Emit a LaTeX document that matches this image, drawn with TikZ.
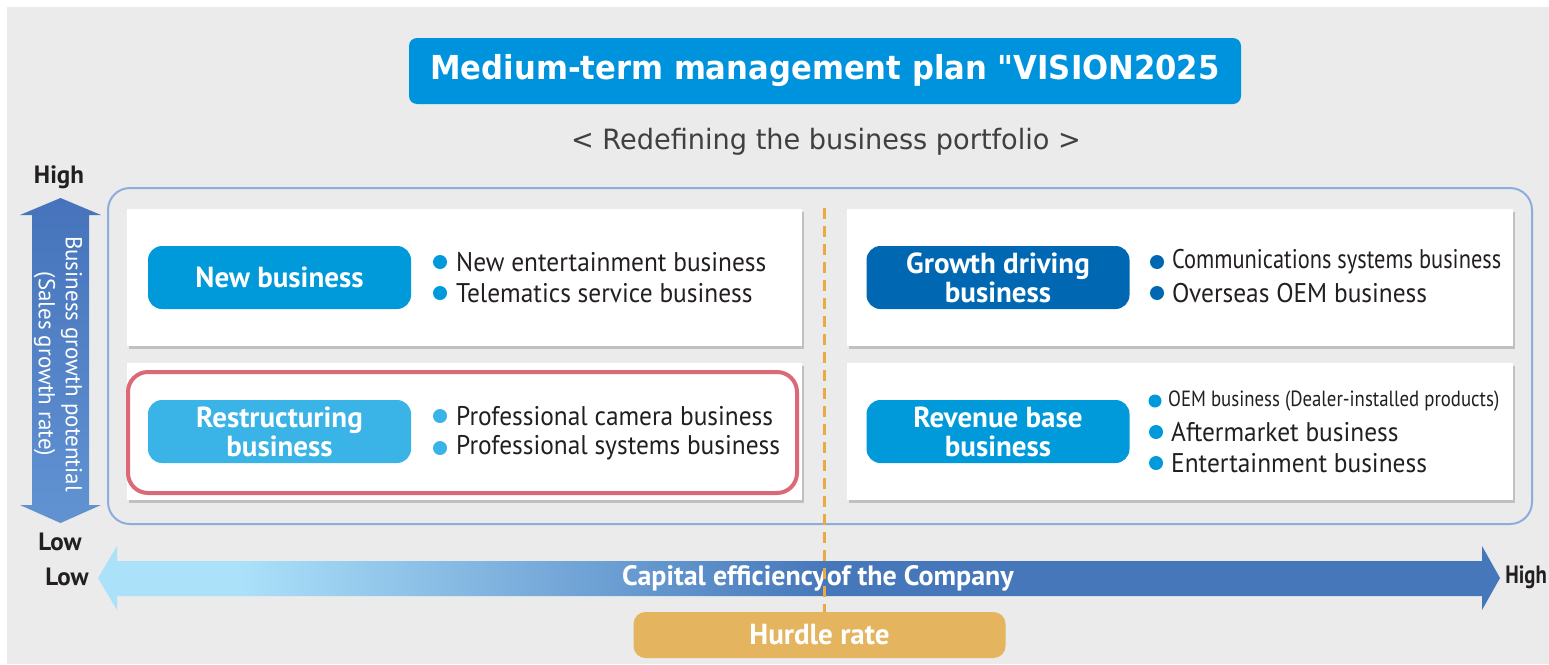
\documentclass[tikz,border=0pt]{standalone}
\usepackage{fontspec}
\setmainfont{PT Sans}
\newfontfamily\dvs[FakeStretch=0.97]{DejaVu Sans}
\newfontfamily\dvsb[FakeStretch=0.93]{DejaVu Sans Bold}
\newfontfamily\ptn[FakeStretch=0.94]{PT Sans}
\newfontfamily\ptcc[FakeStretch=0.83]{PT Sans}
\newfontfamily\ptc[FakeStretch=0.855]{PT Sans}
\usetikzlibrary{shadows}
\definecolor{bg}{HTML}{EAEBEA}
\definecolor{titleblue}{HTML}{0093DD}
\definecolor{cnew}{HTML}{009ADA}
\definecolor{cgrow}{HTML}{0068B2}
\definecolor{cres}{HTML}{3AB3E6}
\definecolor{outerc}{HTML}{8DAEDD}
\definecolor{redc}{HTML}{DB6A76}
\definecolor{hurdle}{HTML}{E5B45F}
\definecolor{dashc}{HTML}{EBA945}
\definecolor{txt}{HTML}{231F20}
\definecolor{subc}{HTML}{404040}
\definecolor{lb}{HTML}{ACE1FA}
\definecolor{db}{HTML}{4677BB}
\definecolor{vtop}{HTML}{4673BB}
\definecolor{vbot}{HTML}{6193D2}
\pgfdeclarehorizontalshading{capshade}{100bp}{color(0bp)=(lb); color(30bp)=(lb); color(51bp)=(db); color(100bp)=(db)}
\begin{document}
\begin{tikzpicture}[x=1pt,y=-1pt,
  quad/.style={fill=white, inner sep=0pt, drop shadow={shadow xshift=2pt, shadow yshift=-3pt, fill=black!45, opacity=0.45}},
  pill/.style={rounded corners=14pt, inner sep=0pt, minimum width=263pt, minimum height=63pt, text=white, align=center,
    font=\fontsize{29}{29}\selectfont\bfseries},
  dot/.style={circle, inner sep=0pt, minimum size=14pt},
  item/.style={anchor=west, inner sep=0pt, text=txt, font=\ptn\fontsize{27}{30}\selectfont},
  axislbl/.style={inner sep=0pt, text=txt, font=\fontsize{25}{27}\selectfont\bfseries}]
% background
\fill[white] (0,0) rectangle (1549,664);
\fill[bg] (7,7) rectangle (1549,664);
\useasboundingbox (0,0) rectangle (1549,664);
% title
\node[fill=titleblue, rounded corners=8pt, minimum width=832pt, minimum height=66pt, inner sep=0pt,
  text=white, font=\dvsb\fontsize{33}{35}\selectfont] (T) at (825,71) {Medium-term management plan "VISION2025};
\node[text=subc, inner sep=0pt, font=\dvs\fontsize{28}{30}\selectfont] (S) at (826,142) {< Redefining the business portfolio >};
% outer frame
\node[draw=outerc, line width=2pt, rounded corners=22pt, minimum width=1424pt, minimum height=336pt, inner sep=0pt] (O) at (820,356) {};
% quadrants
\node[quad, minimum width=675pt, minimum height=137pt] (q1) at (464.5,277.5) {};
\node[quad, minimum width=666pt, minimum height=137pt] (q2) at (1180,277.5) {};
\node[quad, minimum width=675pt, minimum height=137pt] (q3) at (464.5,431.5) {};
\node[quad, minimum width=666pt, minimum height=137pt] (q4) at (1180,431.5) {};
\node[draw=redc, line width=4pt, rounded corners=20pt, minimum width=669pt, minimum height=121pt, inner sep=0pt] (R) at (462.5,432.5) {};
% dashed line
\coordinate (dtop) at (824,208);
% pills
\node[pill, fill=cnew] (p1) at (279.5,277.5) {New business};
\node[pill, fill=cgrow] (p2) at (998,277.5) {Growth driving\\business};
\node[pill, fill=cres] (p3) at (279.5,431.5) {Restructuring\\business};
\node[pill, fill=cnew] (p4) at (998,431.5) {Revenue base\\business};
% bullets TL
\node[dot, fill=cnew] (d11) at (440,262) {};
\node[item] (t11) at (456,262) {New entertainment business};
\node[dot, fill=cnew] (d12) at (440,293) {};
\node[item] (t12) at (456,293) {Telematics service business};
% bullets TR
\node[dot, fill=cgrow] (d21) at (1157,262) {};
\node[item, font=\ptcc\fontsize{27}{30}\selectfont] (t21) at (1172,262) {Communications systems business};
\node[dot, fill=cgrow] (d22) at (1157,293) {};
\node[item] (t22) at (1172,293) {Overseas OEM business};
% bullets BL
\node[dot, fill=cres] (d31) at (440,416) {};
\node[item] (t31) at (456,416) {Professional camera business};
\node[dot, fill=cres] (d32) at (440,448) {};
\node[item] (t32) at (456,448) {Professional systems business};
% bullets BR
\node[dot, fill=cnew, minimum size=13pt] (d41) at (1155,401) {};
\node[item, font=\ptc\fontsize{22}{24}\selectfont] (t41) at (1168,401) {OEM business (Dealer-installed products)};
\node[dot, fill=cnew] (d42) at (1156,432) {};
\node[item] (t42) at (1171,432) {Aftermarket business};
\node[dot, fill=cnew] (d43) at (1156,463) {};
\node[item] (t43) at (1171,463) {Entertainment business};
% vertical arrow
\shade[top color=vtop, bottom color=vbot]
  (60.5,198) -- (101,215) -- (89,215) -- (89,505) -- (101,505) -- (60.5,523) -- (20,505) -- (32,505) -- (32,215) -- (20,215) -- cycle;
\node[rotate=-90, text=white, align=center, inner sep=0pt, font=\fontsize{23}{27}\selectfont] (V) at (58,364) {Business growth potential\\(Sales growth rate)};
\node[axislbl] (vh) at (59,177) {High};
\node[axislbl] (vl) at (60,542) {Low};
% horizontal arrow
\path[shading=capshade]
  (98,578) -- (117,546) -- (117,561) -- (1482,561) -- (1482,546) -- (1500,578) -- (1482,610) -- (1482,596) -- (117,596) -- (117,610) -- cycle;
\node[text=white, inner sep=0pt, font=\fontsize{28}{30}\selectfont\bfseries] (C) at (818,578) {Capital efficiency\hspace{1pt}of the Company};
\node[axislbl] (hl) at (67,577) {Low};
\node[axislbl, anchor=east, font=\ptcc\fontsize{25}{27}\selectfont\bfseries] (hh) at (1547,577) {High};
% hurdle
\node[fill=hurdle, rounded corners=12pt, minimum width=372pt, minimum height=46pt, inner sep=0pt, text=white,
  font=\fontsize{29}{31}\selectfont\bfseries] (H) at (819.5,635) {Hurdle rate};
\draw[dashc, line width=3pt, dash pattern=on 11pt off 7pt] (dtop) -- (dtop |- H.north);
\end{tikzpicture}
\end{document}
